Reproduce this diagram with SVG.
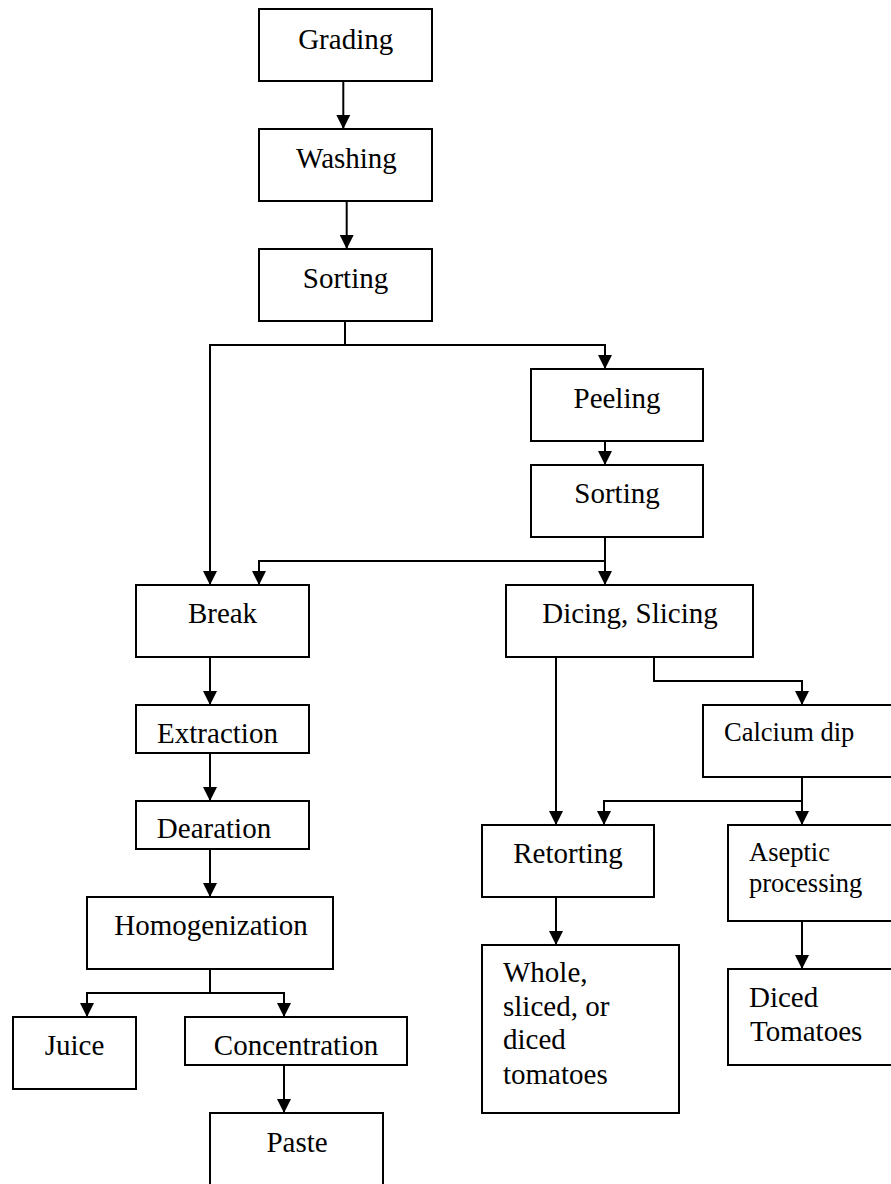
<svg xmlns="http://www.w3.org/2000/svg" width="891" height="1184" viewBox="0 0 891 1184">
<defs>
<style>
.box{fill:#fff;stroke:#000;stroke-width:2}
.t{font-family:"Liberation Serif","Times New Roman",serif;font-size:29px;fill:#000}
.c{text-anchor:middle}
.s{font-size:26.5px}
.ln{fill:none;stroke:#000;stroke-width:2}
</style>
<marker id="ah" viewBox="0 0 14 14" refX="14" refY="7" markerWidth="14" markerHeight="14" markerUnits="userSpaceOnUse" orient="auto">
<path d="M0,0 L14,7 L0,14 z" fill="#000"/>
</marker>
</defs>
<rect width="891" height="1184" fill="#fff"/>
<g id="connectors">
<path class="ln" d="M343.3,81 V129" marker-end="url(#ah)"/>
<path class="ln" d="M346.7,201 V249" marker-end="url(#ah)"/>
<path class="ln" d="M345,321 V345"/>
<path class="ln" d="M345,345 H210 V585" marker-end="url(#ah)"/>
<path class="ln" d="M345,345 H605 V369" marker-end="url(#ah)"/>
<path class="ln" d="M605,441 V465" marker-end="url(#ah)"/>
<path class="ln" d="M605,537 V585" marker-end="url(#ah)"/>
<path class="ln" d="M605,561 H259 V585" marker-end="url(#ah)"/>
<path class="ln" d="M210,657 V705" marker-end="url(#ah)"/>
<path class="ln" d="M210,753 V801" marker-end="url(#ah)"/>
<path class="ln" d="M210,849 V897" marker-end="url(#ah)"/>
<path class="ln" d="M210,969 V993"/>
<path class="ln" d="M210,993 H87 V1017" marker-end="url(#ah)"/>
<path class="ln" d="M210,993 H284 V1017" marker-end="url(#ah)"/>
<path class="ln" d="M284,1065 V1113" marker-end="url(#ah)"/>
<path class="ln" d="M556,657 V825" marker-end="url(#ah)"/>
<path class="ln" d="M654,657 V681 H802 V705" marker-end="url(#ah)"/>
<path class="ln" d="M802,777 V825" marker-end="url(#ah)"/>
<path class="ln" d="M802,801 H604 V825" marker-end="url(#ah)"/>
<path class="ln" d="M556,897 V945" marker-end="url(#ah)"/>
<path class="ln" d="M802,921 V969" marker-end="url(#ah)"/>
</g>
<g id="grading"><rect class="box" x="259" y="9" width="173" height="72"/><text class="t c" x="345.7" y="49">Grading</text></g>
<g id="washing"><rect class="box" x="259" y="129" width="173" height="72"/><text class="t c" x="346.5" y="168">Washing</text></g>
<g id="sorting1"><rect class="box" x="259" y="249" width="173" height="72"/><text class="t c" x="345.5" y="288">Sorting</text></g>
<g id="peeling"><rect class="box" x="531" y="369" width="172" height="72"/><text class="t c" x="617" y="408">Peeling</text></g>
<g id="sorting2"><rect class="box" x="531" y="465" width="172" height="72"/><text class="t c" x="617" y="503">Sorting</text></g>
<g id="break"><rect class="box" x="136" y="585" width="173" height="72"/><text class="t c" x="222.5" y="623">Break</text></g>
<g id="dicing"><rect class="box" x="506" y="585" width="247" height="72"/><text class="t c" x="630" y="623">Dicing, Slicing</text></g>
<g id="extraction"><rect class="box" x="136" y="705" width="173" height="48"/><text class="t c" x="217.5" y="743">Extraction</text></g>
<g id="dearation"><rect class="box" x="136" y="801" width="173" height="48"/><text class="t c" x="214" y="838">Dearation</text></g>
<g id="homogenization"><rect class="box" x="87" y="897" width="246" height="72"/><text class="t c" x="211" y="935">Homogenization</text></g>
<g id="juice"><rect class="box" x="13" y="1017" width="123" height="72"/><text class="t c" x="74.5" y="1055">Juice</text></g>
<g id="concentration"><rect class="box" x="185" y="1017" width="222" height="48"/><text class="t c" x="296" y="1055">Concentration</text></g>
<g id="paste"><rect class="box" x="210" y="1113" width="173" height="90"/><text class="t c" x="297" y="1152">Paste</text></g>
<g id="calcium"><rect class="box" x="703" y="705" width="195" height="72"/><text class="t s" x="724" y="741">Calcium dip</text></g>
<g id="retorting"><rect class="box" x="482" y="825" width="172" height="72"/><text class="t c" x="568" y="863">Retorting</text></g>
<g id="aseptic"><rect class="box" x="728" y="825" width="170" height="96"/><text class="t s" x="749" y="861">Aseptic</text><text class="t s" x="749" y="892">processing</text></g>
<g id="whole"><rect class="box" x="482" y="945" width="197" height="168"/><text class="t" x="503" y="982">Whole,</text><text class="t" x="503" y="1016">sliced, or</text><text class="t" x="503" y="1049">diced</text><text class="t" x="503" y="1084">tomatoes</text></g>
<g id="diced"><rect class="box" x="728" y="969" width="170" height="96"/><text class="t" x="749" y="1007">Diced</text><text class="t" x="750" y="1041">Tomatoes</text></g>
</svg>
